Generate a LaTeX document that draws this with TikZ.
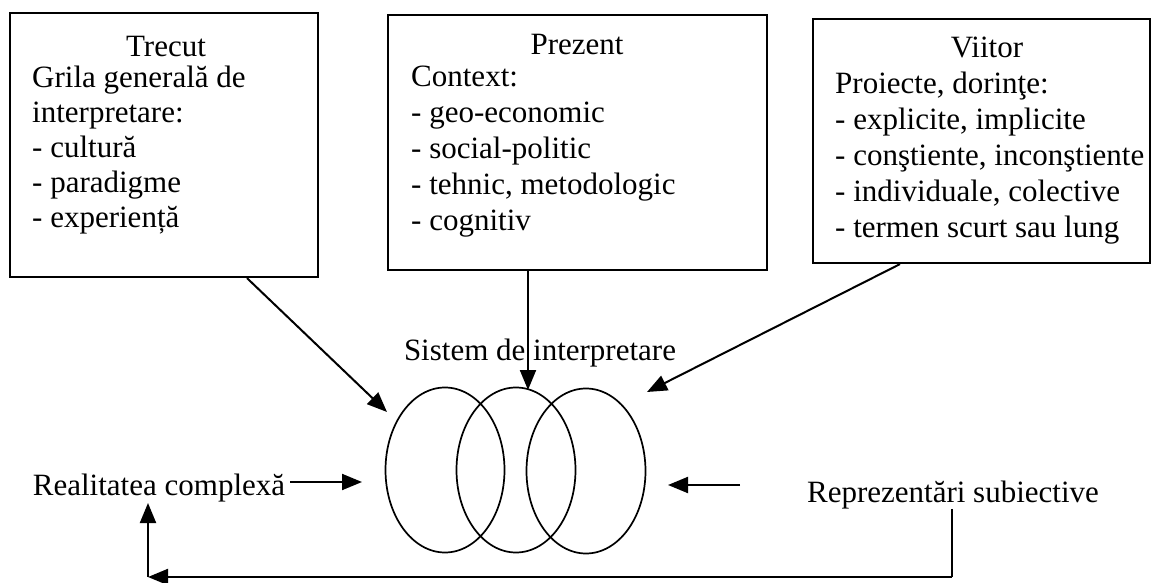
\documentclass[tikz,border=0pt]{standalone}
\usepackage{fontspec}
\setmainfont{Liberation Serif}
\usetikzlibrary{arrows.meta,shapes.geometric}
\begin{document}
\begin{tikzpicture}[x=1pt,y=-1pt,
  txt/.style={inner sep=0pt, font=\fontsize{31}{36}\selectfont},
  body/.style={txt, align=left, anchor=base west},
  ttl/.style={txt, anchor=base},
  panel/.style={draw, line width=2.2pt, inner sep=0pt, rectangle},
  ring/.style={draw, ellipse, line width=1.7pt, inner sep=0pt, minimum width=119pt, minimum height=165pt},
  arr/.style={line width=2pt, -{Triangle[length=20pt,width=16pt]}},
  link/.style={line width=2pt}
]
\fill[white] (0,0) rectangle (1160,583);
\useasboundingbox (0,0) rectangle (1160,583);

% boxes
\node[panel, minimum width=308pt, minimum height=264pt] (b1) at (164,145) {};
\node[panel, minimum width=379pt, minimum height=255pt] (b2) at (577.5,142.5) {};
\node[panel, minimum width=337pt, minimum height=244pt] (b3) at (981.5,141) {};

% box texts (base anchor = baseline of last line)
\node[ttl] (t1) at (166,57) {Trecut};
\node[body, font=\fontsize{31}{34.8}\selectfont] (x1) at (32,227) {Grila generală de\\interpretare:\\- cultură\\- paradigme\\- experiență};

\node[ttl] (t2) at (577,55) {Prezent};
\node[body] (x2) at (411,230) {Context:\\- geo-economic\\- social-politic\\- tehnic, metodologic\\- cognitiv};

\node[ttl] (t3) at (987,58) {Viitor};
\node[body] (x3) at (835,237) {Proiecte, dorinţe:\\- explicite, implicite\\- conştiente, inconştiente\\- individuale, colective\\- termen scurt sau lung};

% ellipses
\node[ring] (e1) at (445,470) {};
\node[ring] (e2) at (516,470) {};
\node[ring] (e3) at (586,471) {};

\node[ttl] (sis) at (540,360) {Sistem de interpretare};
\node[ttl] (real) at (159,495) {Realitatea complexă};
\node[ttl] (rep) at (953,502) {Reprezentări subiective};

% arrow end points
\coordinate (tip1) at (387,412);
\coordinate (tip2) at (528,390);
\coordinate (tip3) at (647,392);
\coordinate (rs) at (290,482);
\coordinate (rt) at (362,482);
\coordinate (ps) at (740,485);
\coordinate (pt) at (668,485);
\coordinate (fbR) at (952,577);
\coordinate (fbL) at (148,577);
\coordinate (up) at (148,503);

% arrows from boxes
\draw[arr] ([xshift=83pt]b1.south) -- (tip1);
\draw[arr] (b2.south -| tip2) -- (tip2);
\draw[arr] ([xshift=-81.5pt]b3.south) -- (tip3);

% side arrows
\draw[arr] (rs) -- (rt);
\draw[arr] (ps) -- (pt);

% feedback
\draw[link] (rep.south -| fbR) -- (fbR);
\draw[arr] (fbR) -- (fbL);
\draw[arr] (fbL) -- (up);
\end{tikzpicture}
\end{document}
